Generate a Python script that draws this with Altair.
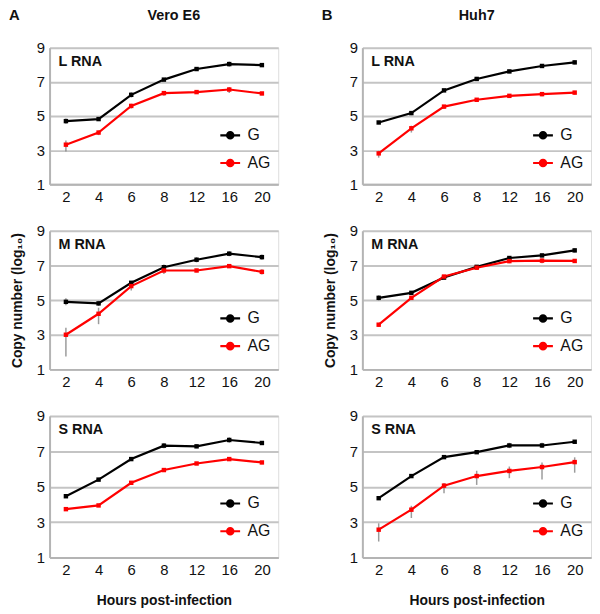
import altair as alt
import pandas as pd

hours = ["2", "4", "6", "8", "12", "16", "20"]
series = ["G", "AG"]
cells = ["Vero E6", "Huh7"]
letters = ["A", "B"]
rnas = ["L RNA", "M RNA", "S RNA"]

# ---- Vero E6 ----
vero_L_G = [4.70, 4.82, 6.24, 7.13, 7.75, 8.04, 7.98]
vero_L_G_err = [0.15, 0.10, 0.15, 0.10, 0.10, 0.15, 0.10]
vero_L_AG = [3.32, 4.03, 5.59, 6.34, 6.40, 6.55, 6.32]
vero_L_AG_lo = [0.40, 0.15, 0.15, 0.15, 0.10, 0.20, 0.10]
vero_L_AG_hi = [0.25, 0.12, 0.12, 0.12, 0.08, 0.15, 0.08]

vero_M_G = [4.90, 4.81, 6.00, 6.90, 7.33, 7.68, 7.48]
vero_M_G_err = [0.20, 0.15, 0.10, 0.15, 0.15, 0.15, 0.15]
vero_M_AG = [3.00, 4.21, 5.81, 6.71, 6.71, 6.96, 6.63]
vero_M_AG_lo = [1.25, 0.60, 0.25, 0.20, 0.10, 0.10, 0.15]
vero_M_AG_hi = [0.40, 0.35, 0.20, 0.15, 0.10, 0.10, 0.15]

vero_S_G = [4.46, 5.40, 6.56, 7.32, 7.28, 7.64, 7.47]
vero_S_G_err = [0.10, 0.10, 0.10, 0.15, 0.10, 0.15, 0.10]
vero_S_AG = [3.73, 3.94, 5.22, 5.94, 6.31, 6.56, 6.37]
vero_S_AG_lo = [0.10, 0.08, 0.10, 0.08, 0.08, 0.10, 0.10]
vero_S_AG_hi = [0.08, 0.06, 0.08, 0.06, 0.06, 0.08, 0.08]

# ---- Huh7 ----
huh_L_G = [4.62, 5.17, 6.50, 7.17, 7.61, 7.93, 8.14]
huh_L_G_err = [0.10, 0.12, 0.10, 0.12, 0.10, 0.10, 0.12]
huh_L_AG = [2.81, 4.28, 5.55, 5.95, 6.18, 6.28, 6.37]
huh_L_AG_lo = [0.25, 0.25, 0.12, 0.12, 0.12, 0.12, 0.12]
huh_L_AG_hi = [0.15, 0.15, 0.10, 0.10, 0.10, 0.10, 0.10]

huh_M_G = [5.13, 5.42, 6.30, 6.92, 7.43, 7.58, 7.87]
huh_M_G_err = [0.15, 0.10, 0.10, 0.10, 0.10, 0.10, 0.12]
huh_M_AG = [3.58, 5.13, 6.36, 6.87, 7.25, 7.28, 7.26]
huh_M_AG_lo = [0.12, 0.12, 0.10, 0.10, 0.12, 0.15, 0.12]
huh_M_AG_hi = [0.10, 0.10, 0.08, 0.08, 0.10, 0.12, 0.10]

huh_S_G = [4.35, 5.60, 6.67, 6.95, 7.33, 7.33, 7.54]
huh_S_G_err = [0.10, 0.10, 0.10, 0.10, 0.15, 0.15, 0.10]
huh_S_AG = [2.57, 3.70, 5.06, 5.60, 5.89, 6.11, 6.39]
huh_S_AG_lo = [0.67, 0.47, 0.43, 0.50, 0.41, 0.70, 0.60]
huh_S_AG_hi = [0.36, 0.22, 0.15, 0.30, 0.25, 0.25, 0.27]

panels_data = {
    ("Vero E6", "L RNA"): (vero_L_G, vero_L_G_err, vero_L_AG, vero_L_AG_lo, vero_L_AG_hi),
    ("Vero E6", "M RNA"): (vero_M_G, vero_M_G_err, vero_M_AG, vero_M_AG_lo, vero_M_AG_hi),
    ("Vero E6", "S RNA"): (vero_S_G, vero_S_G_err, vero_S_AG, vero_S_AG_lo, vero_S_AG_hi),
    ("Huh7", "L RNA"): (huh_L_G, huh_L_G_err, huh_L_AG, huh_L_AG_lo, huh_L_AG_hi),
    ("Huh7", "M RNA"): (huh_M_G, huh_M_G_err, huh_M_AG, huh_M_AG_lo, huh_M_AG_hi),
    ("Huh7", "S RNA"): (huh_S_G, huh_S_G_err, huh_S_AG, huh_S_AG_lo, huh_S_AG_hi),
}

FONT = "Liberation Sans"
GRID = "#c4c4c4"
W = 231
ROW_H = [138, 140, 143]

legend_symbol = "M -1 0 L 1 0 M 0.32 0 A 0.32 0.32 0 1 1 -0.32 0 A 0.32 0.32 0 1 1 0.32 0 Z"


def make_df(cell, rna):
    g, gerr, ag, aglo, aghi = panels_data[(cell, rna)]
    rows = []
    for i, h in enumerate(hours):
        rows.append({"hour": h, "series": "G", "value": g[i],
                     "lo": g[i] - gerr[i], "hi": g[i] + gerr[i]})
    for i, h in enumerate(hours):
        rows.append({"hour": h, "series": "AG", "value": ag[i],
                     "lo": ag[i] - aglo[i], "hi": ag[i] + aghi[i]})
    return pd.DataFrame(rows)


def text_layer(t, x, y, size, align="left"):
    return alt.Chart(pd.DataFrame({"t": [t]})).mark_text(
        align=align, baseline="alphabetic", fontSize=size, fontWeight="bold",
        font=FONT, color="#111"
    ).encode(text="t:N", x=alt.value(x), y=alt.value(y))


def panel(ci, ri):
    cell = cells[ci]
    rna = rnas[ri]
    df = make_df(cell, rna)
    xaxis = alt.Axis(
        title="Hours post-infection" if ri == 2 else None,
        labelAngle=0, ticks=False, grid=False,
        domainColor="#b4b4b4", domainWidth=2,
        labelFontSize=15, labelPadding=5, labelColor="#111",
        titleFontSize=14, titleFontWeight="bold", titlePadding=17, titleColor="#111",
    )
    yaxis = alt.Axis(
        title="Copy number (log₁₀)" if ri == 1 else None,
        values=[1, 3, 5, 7, 9], ticks=False, grid=True,
        gridColor=GRID, gridWidth=2,
        domainColor="#b4b4b4", domainWidth=2,
        labelFontSize=15, labelPadding=5, labelColor="#111",
        titleFontSize=14, titleFontWeight="bold", titlePadding=12, titleColor="#111",
    )
    x = alt.X("hour:O", sort=hours, scale=alt.Scale(type="point", padding=0.5), axis=xaxis)
    yscale = alt.Scale(domain=[1, 9], nice=False, zero=False)
    color = alt.Color(
        "series:N", sort=series,
        scale=alt.Scale(domain=series, range=["#000000", "#ff0000"]),
        legend=alt.Legend(
            title=None, orient="none", legendX=171, legendY=77,
            symbolType=legend_symbol, symbolSize=400, symbolStrokeWidth=2.2,
            symbolOpacity=1,
            labelFontSize=16, labelFont=FONT, labelColor="#111", labelOffset=6,
            rowPadding=8, padding=0,
        ),
    )
    base = alt.Chart(df)
    err = base.mark_rule(strokeWidth=1.5, color="#7a7a7a", opacity=0.75).encode(
        x=x, y=alt.Y("lo:Q", scale=yscale, axis=yaxis), y2="hi:Q"
    )
    line = base.mark_line(strokeWidth=2.2).encode(
        x=x, y=alt.Y("value:Q", scale=yscale, axis=yaxis), color=color
    )
    pts = base.mark_point(filled=True, shape="square", size=20, opacity=1).encode(
        x=x, y=alt.Y("value:Q", scale=yscale, axis=yaxis), color=color
    )
    layers = [err, line, pts, text_layer(rna, 9, 18, 14.5)]
    if ri == 0:
        layers.append(text_layer(letters[ci], -41, -28, 15))
        layers.append(text_layer(cell, W / 2 + (10 if ci == 0 else 0), -28, 14.5, "center"))
    return alt.layer(*layers).properties(width=W, height=ROW_H[ri])


charts = []
for ri in range(3):
    for ci in range(2):
        charts.append(panel(ci, ri))

chart = alt.concat(*charts, columns=2, spacing={"row": 18, "column": 42}).resolve_scale(
    color="independent"
).resolve_legend(color="independent").configure_view(stroke=None).configure(
    font=FONT
).properties(padding={"left": 0, "top": -4, "right": 0, "bottom": 0})

chart.save("out.html", embed_options={"renderer": "svg", "actions": False})
